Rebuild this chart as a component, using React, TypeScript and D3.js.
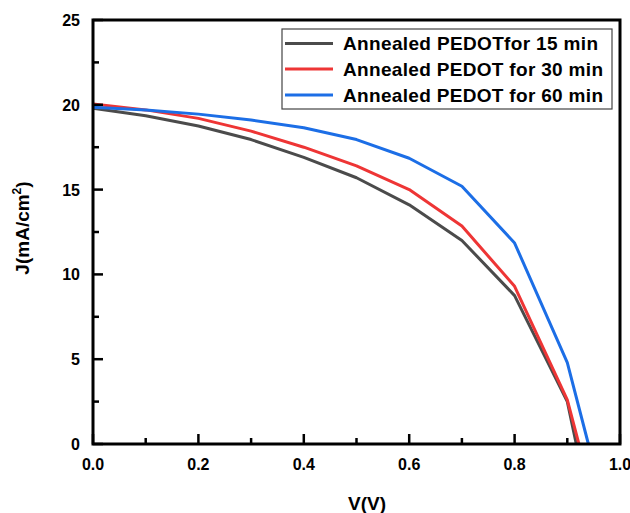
import React, { useEffect, useRef } from 'react';
import * as d3 from 'd3';

// V (V) and J (mA/cm2), 0.1 V steps plus the Voc point
const volts15 = [0, 0.1, 0.2, 0.3, 0.4, 0.5, 0.6, 0.7, 0.8, 0.9, 0.917];
const curr15 = [19.8, 19.35, 18.75, 17.95, 16.9, 15.7, 14.1, 12.0, 8.75, 2.5, 0];

const volts30 = [0, 0.1, 0.2, 0.3, 0.4, 0.5, 0.6, 0.7, 0.8, 0.9, 0.922];
const curr30 = [20.05, 19.7, 19.2, 18.45, 17.5, 16.4, 15.0, 12.85, 9.3, 2.6, 0];

const volts60 = [0, 0.1, 0.2, 0.3, 0.4, 0.5, 0.6, 0.7, 0.8, 0.9, 0.94];
const curr60 = [19.85, 19.7, 19.45, 19.1, 18.65, 17.95, 16.85, 15.2, 11.85, 4.8, 0];

const seriesNames = [
  'Annealed PEDOTfor 15 min',
  'Annealed PEDOT for 30 min',
  'Annealed PEDOT for 60 min'
];
const seriesColors = ['#4b4b4b', '#ee3535', '#1c6ee6'];

const xTicks = [0, 0.2, 0.4, 0.6, 0.8, 1.0];
const xMinor = [0.1, 0.3, 0.5, 0.7, 0.9];
const yTicks = [0, 5, 10, 15, 20, 25];
const yMinor = [2.5, 7.5, 12.5, 17.5, 22.5];

const font = 'Arial, "Liberation Sans", sans-serif';

export default function App() {
  const ref = useRef(null);

  useEffect(() => {
    const svg = d3.select(ref.current);
    svg.selectAll('*').remove();

    const left = 93, right = 620, top = 20, bottom = 444;

    const x = d3.scaleLinear().domain([0, 1]).range([left, right]);
    const y = d3.scaleLinear().domain([0, 25]).range([bottom, top]);

    const series = [
      volts15.map((v, i) => [v, curr15[i]]),
      volts30.map((v, i) => [v, curr30[i]]),
      volts60.map((v, i) => [v, curr60[i]])
    ];

    const line = d3.line()
      .x(d => x(d[0]))
      .y(d => y(d[1]));

    svg.selectAll('path.curve')
      .data(series)
      .enter()
      .append('path')
      .attr('class', 'curve')
      .attr('d', d => line(d))
      .attr('fill', 'none')
      .attr('stroke', (d, i) => seriesColors[i])
      .attr('stroke-width', 3)
      .attr('stroke-linejoin', 'round');

    // inward ticks, left and bottom only
    const g = svg.append('g').attr('stroke', '#000').attr('stroke-width', 2.5);
    yTicks.forEach(t => {
      g.append('line').attr('x1', left).attr('x2', left + 10).attr('y1', y(t)).attr('y2', y(t));
    });
    yMinor.forEach(t => {
      g.append('line').attr('x1', left).attr('x2', left + 6).attr('y1', y(t)).attr('y2', y(t));
    });
    xTicks.forEach(t => {
      g.append('line').attr('x1', x(t)).attr('x2', x(t)).attr('y1', bottom).attr('y2', bottom - 10);
    });
    xMinor.forEach(t => {
      g.append('line').attr('x1', x(t)).attr('x2', x(t)).attr('y1', bottom).attr('y2', bottom - 6);
    });

    // frame
    svg.append('rect')
      .attr('x', left)
      .attr('y', top)
      .attr('width', right - left)
      .attr('height', bottom - top)
      .attr('fill', 'none')
      .attr('stroke', '#000')
      .attr('stroke-width', 3);

    svg.selectAll('text.ytick')
      .data(yTicks)
      .enter()
      .append('text')
      .attr('class', 'ytick')
      .attr('x', 80)
      .attr('y', d => y(d) + 6)
      .attr('text-anchor', 'end')
      .attr('font-family', font)
      .attr('font-weight', 'bold')
      .attr('font-size', 16)
      .text(d => d);

    svg.selectAll('text.xtick')
      .data(xTicks)
      .enter()
      .append('text')
      .attr('class', 'xtick')
      .attr('x', d => x(d))
      .attr('y', 470)
      .attr('text-anchor', 'middle')
      .attr('font-family', font)
      .attr('font-weight', 'bold')
      .attr('font-size', 16)
      .text(d => d3.format('.1f')(d));

    svg.append('text')
      .attr('x', 367)
      .attr('y', 510)
      .attr('text-anchor', 'middle')
      .attr('font-family', font)
      .attr('font-weight', 'bold')
      .attr('font-size', 19)
      .text('V(V)');

    const yl = svg.append('text')
      .attr('transform', 'translate(29,228) rotate(-90)')
      .attr('text-anchor', 'middle')
      .attr('font-family', font)
      .attr('font-weight', 'bold')
      .attr('font-size', 19);
    yl.append('tspan').text('J(mA/cm');
    yl.append('tspan').attr('dy', -8).attr('font-size', 12).text('2');
    yl.append('tspan').attr('dy', 8).text(')');

    // legend
    svg.append('rect')
      .attr('x', 282)
      .attr('y', 29)
      .attr('width', 330)
      .attr('height', 80)
      .attr('fill', '#fff')
      .attr('stroke', '#444')
      .attr('stroke-width', 1.2);

    const rowY = [43.5, 69, 95];
    seriesNames.forEach((name, i) => {
      svg.append('line')
        .attr('x1', 285)
        .attr('x2', 333)
        .attr('y1', rowY[i])
        .attr('y2', rowY[i])
        .attr('stroke', seriesColors[i])
        .attr('stroke-width', 3);
      svg.append('text')
        .attr('x', 343)
        .attr('y', rowY[i] + 6.5)
        .attr('font-family', font)
        .attr('font-weight', 'bold')
        .attr('font-size', 19)
        .attr('textLength', name === seriesNames[0] ? 255 : 260)
        .text(name);
    });
  }, []);

  return (
    <svg
      ref={ref}
      width={630}
      height={513}
      style={{ position: 'absolute', left: 0, top: 0, background: '#fff' }}
    />
  );
}
